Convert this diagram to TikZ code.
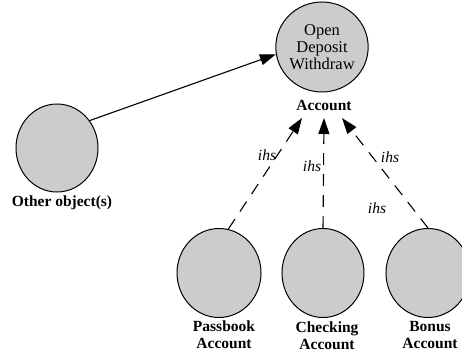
\documentclass[tikz,border=0pt]{standalone}
\usepackage{fontspec}
\setmainfont{Liberation Serif}
\usetikzlibrary{shapes.geometric,arrows.meta}
\begin{document}
\begin{tikzpicture}[x=1pt,y=1pt,
  obj/.style={ellipse,draw=black,line width=1pt,fill=black!20,inner sep=0pt},
  lbl/.style={font=\fontsize{15.5}{17}\selectfont\bfseries,align=center,inner sep=0pt},
  ihslbl/.style={font=\fontsize{15.5}{17}\selectfont\itshape,inner sep=0pt},
  link/.style={line width=1.1pt,-{Triangle[length=16pt,width=11pt]}},
  inh/.style={link,dash pattern=on 12pt off 9pt}]
\useasboundingbox (0,0) rectangle (462,356);
\begin{scope}
\clip (0,0) rectangle (462,356);
\node[obj,minimum width=80pt,minimum height=90pt,align=center,
  font=\fontsize{16.5}{17}\selectfont] (acc) at (322,309) {Open\\Deposit\\Withdraw};
\node[obj,minimum width=82pt,minimum height=88pt] (other) at (57,208) {};
\node[obj,minimum width=84pt,minimum height=89pt] (pass) at (219,83) {};
\node[obj,minimum width=82pt,minimum height=89pt] (chk) at (323,83) {};
\node[obj,minimum width=84pt,minimum height=89pt] (bon) at (428,83) {};
\end{scope}
\node[lbl] (acclbl) at (324,251) {Account};
\node[lbl] (otherlbl) at (62,153) {Other object(s)};
\node[lbl] (passlbl) at (224,21) {Passbook\\Account};
\node[lbl] (chklbl) at (327,20) {Checking\\Account};
\node[lbl] (bonlbl) at (430,21) {Bonus\\Account};
\coordinate (t1) at (302,238);
\coordinate (t2) at (324,238);
\coordinate (t3) at (342,238);
\draw[link] (other.40) -- (acc.189);
\draw[inh] (pass.78) -- (t1);
\draw[inh] (chk.north) -- (t2);
\draw[inh] (bon.north) -- (t3);
\node[ihslbl] (i1) at (267,201) {ihs};
\node[ihslbl] (i2) at (312,190) {ihs};
\node[ihslbl] (i3) at (390,199) {ihs};
\node[ihslbl] (i4) at (377,148) {ihs};
\end{tikzpicture}
\end{document}
